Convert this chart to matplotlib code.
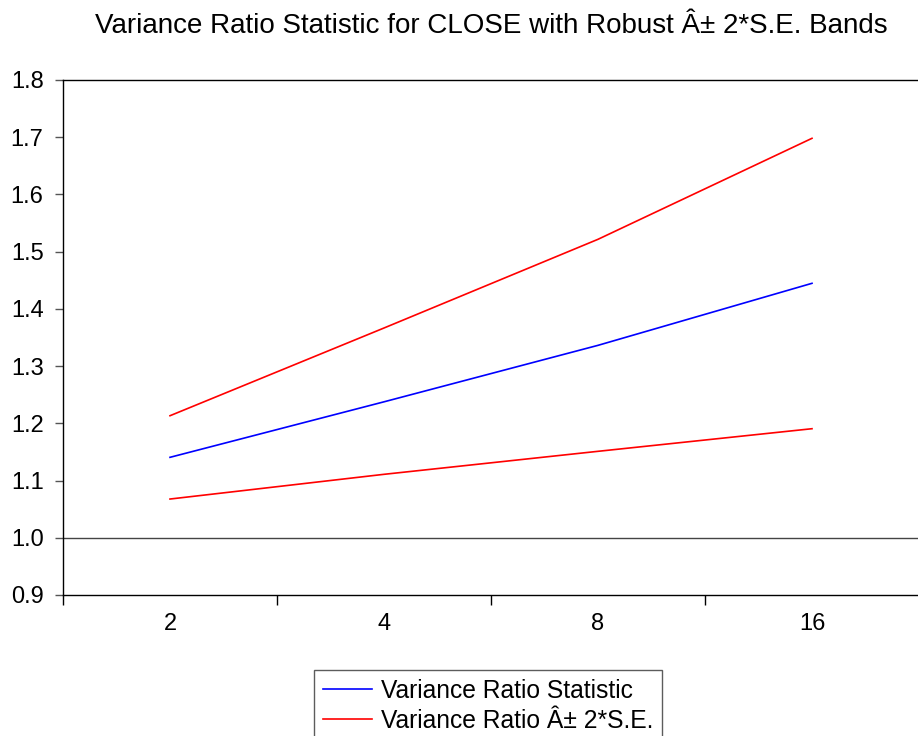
import matplotlib
matplotlib.use("Agg")
import matplotlib.pyplot as plt
import numpy as np

plt.rcParams['font.family'] = ['Liberation Sans', 'DejaVu Sans']

categories = ["2", "4", "8", "16"]
vr_stat = [1.1406, 1.2376, 1.3363, 1.4447]
upper_band = [1.2133, 1.3666, 1.5216, 1.6981]
lower_band = [1.0677, 1.1109, 1.1511, 1.1906]
y_ticks = [0.9, 1.0, 1.1, 1.2, 1.3, 1.4, 1.5, 1.6, 1.7, 1.8]
title = "Variance Ratio Statistic for CLOSE with Robust \u00c2\u00b1 2*S.E. Bands"

W, H = 918, 736
fig = plt.figure(figsize=(W/100, H/100), dpi=100)
ax = fig.add_axes([63/W, 1-595/H, (919-63)/W, (595-80)/H])

x = np.arange(1, len(categories)+1)
l1, = ax.plot(x, vr_stat, color='#0000ff', lw=1.2)
l2, = ax.plot(x, upper_band, color='#ff0000', lw=1.2)
ax.plot(x, lower_band, color='#ff0000', lw=1.2)
ax.axhline(1.0, color='#444444', lw=1.0, zorder=1)

ax.set_xlim(0.5, len(categories)+0.5)
ax.set_ylim(0.9, 1.8)
ax.set_yticks(y_ticks)
ax.set_yticklabels([f"{v:.1f}" for v in y_ticks])
ax.set_xticks(x)
ax.set_xticklabels(categories)
ax.set_xticks(np.arange(0.5, len(categories)+0.6, 1.0), minor=True)

ax.tick_params(axis='y', direction='out', length=6, width=1, pad=8, labelsize=17, color='#555555')
ax.tick_params(axis='x', which='major', length=0, pad=13, labelsize=17)
ax.tick_params(axis='x', which='minor', direction='out', length=7, width=1, color='black')

for s in ['left', 'top', 'bottom']:
    ax.spines[s].set_color('black')
    ax.spines[s].set_linewidth(1.0)
ax.spines['right'].set_visible(False)

fig.text(491/W, 1-26/H, title, ha='center', va='center', fontsize=20)

leg = fig.legend([l1, l2], ["Variance Ratio Statistic", "Variance Ratio \u00c2\u00b1 2*S.E."],
                 loc='upper left', bbox_to_anchor=(314/W, 1-670/H),
                 fontsize=17.7, frameon=True, fancybox=False, shadow=False,
                 handlelength=2.0, handletextpad=0.37, labelspacing=0.25,
                 borderpad=0.35, borderaxespad=0)
leg.get_frame().set_edgecolor('#333333')
leg.get_frame().set_linewidth(1.0)

fig.savefig("out.png", dpi=100)
